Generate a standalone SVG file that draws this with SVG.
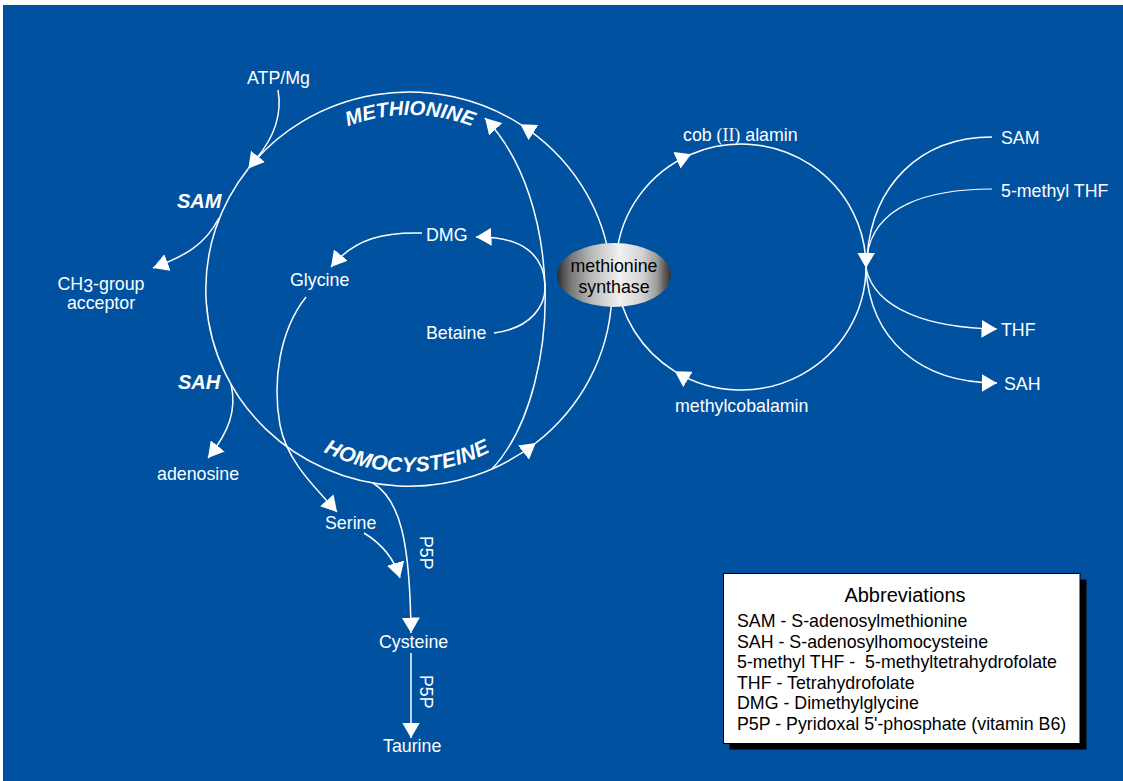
<svg xmlns="http://www.w3.org/2000/svg" width="1123" height="781" viewBox="0 0 1123 781">
<defs>
<style>
.bg{fill:#0052A0}
.ln{fill:none;stroke:#fff;stroke-width:1.5}
.thin{fill:none;stroke:#fff;stroke-width:1.2}
.t{font-family:"Liberation Sans",Arial,sans-serif;font-size:17.8px;fill:#fff}
.bi{font-family:"Liberation Sans",Arial,sans-serif;font-size:20px;font-weight:bold;font-style:italic;fill:#fff}
.dk{font-family:"Liberation Sans",Arial,sans-serif;font-size:17.8px;fill:#000}
</style>
<marker id="ah" viewBox="0 0 15.5 18" refX="15.5" refY="9" markerWidth="15.5" markerHeight="18" markerUnits="userSpaceOnUse" orient="auto">
<path d="M0,0 L15.5,9 L0,18 Z" fill="#fff"/>
</marker>
<linearGradient id="enz" x1="0" y1="0" x2="1" y2="0">
<stop offset="0" stop-color="#2a2a2a"/>
<stop offset="0.06" stop-color="#555"/>
<stop offset="0.13" stop-color="#7a7a7a"/>
<stop offset="0.3" stop-color="#b8b8b8"/>
<stop offset="0.55" stop-color="#f2f2f2"/>
<stop offset="0.75" stop-color="#d2d2d2"/>
<stop offset="0.88" stop-color="#9a9a9a"/>
<stop offset="0.94" stop-color="#606060"/>
<stop offset="1" stop-color="#303030"/>
</linearGradient>
<path id="arcTop" d="M 236 289 A 174 174 0 0 1 584 289"/>
<path id="arcBot" d="M 224 289 A 183 183 0 0 0 590 289"/>
</defs>

<rect class="bg" x="3" y="5" width="1120" height="776"/>

<g id="connectors">
<path class="ln" d="M 610 261.6 A 203 197 0 0 0 520.4 124.3" marker-end="url(#ah)"/>
<path class="ln" d="M 520.4 124.3 A 203 197 0 0 0 248.4 168.5" marker-end="url(#ah)"/>
<path class="ln" d="M 248.4 168.5 A 203 197 0 0 0 535.7 443" marker-end="url(#ah)"/>
<path class="ln" d="M 535.7 443 A 203 197 0 0 0 611.7 299.3"/>
<path class="ln" d="M 278 90 C 283 118, 272 140, 256 159"/>
<path class="ln" d="M 219 218 C 205 245, 185 256, 153 268" marker-end="url(#ah)"/>
<path class="ln" d="M 231 384 C 237 410, 229 432, 208 458" marker-end="url(#ah)"/>
<path class="ln" d="M 492 469 C 533 425, 547 345, 545 287 C 543 225, 525 160, 485 118" marker-end="url(#ah)"/>
<path class="ln" d="M 494 333 C 532 328, 546 305, 545 285 C 544 255, 522 236, 476 237" marker-end="url(#ah)"/>
<path class="ln" d="M 422 233 C 385 232, 355 238, 331 267" marker-end="url(#ah)"/>
<path class="ln" d="M 306 297 C 280 330, 272 380, 280 425 C 287 462, 316 488, 337 512" marker-end="url(#ah)"/>
<path class="ln" d="M 373 483 C 400 500, 410 540, 411 633" marker-end="url(#ah)"/>
<path class="ln" d="M 364 533 C 382 544, 394 558, 400 578" marker-end="url(#ah)"/>
<path class="ln" d="M 411 653 L 411 738" marker-end="url(#ah)"/>
<path class="ln" d="M 616.5 256.3 A 125 123 0 0 1 691.2 154.2" marker-end="url(#ah)"/>
<path class="ln" d="M 691.2 154.2 A 125 123 0 0 1 866 268.1" marker-end="url(#ah)"/>
<path class="ln" d="M 866 268.1 A 125 123 0 0 1 674.8 371.3" marker-end="url(#ah)"/>
<path class="ln" d="M 674.8 371.3 A 125 123 0 0 1 616.5 277.7"/>
<path class="ln" d="M 992 137 C 920 137, 872 185, 867 258"/>
<path class="thin" d="M 992 189 C 930 189, 872 205, 867 258"/>
<path class="thin" d="M 866 268 C 875 310, 930 328, 997 329" marker-end="url(#ah)"/>
<path class="ln" d="M 866 268 C 870 340, 920 383, 997 383" marker-end="url(#ah)"/>
</g>

<g id="node-methionine-synthase">
<ellipse cx="614" cy="275" rx="57" ry="32" fill="url(#enz)"/>
<text class="dk" x="614" y="272" text-anchor="middle">methionine</text>
<text class="dk" x="614" y="293" text-anchor="middle">synthase</text>
</g>

<g id="node-methionine">
<text class="bi" style="font-size:20.3px"><textPath href="#arcTop" startOffset="50%" text-anchor="middle">METHIONINE</textPath></text>
</g>
<g id="node-homocysteine">
<text class="bi" style="font-size:21px;letter-spacing:0.3px"><textPath href="#arcBot" startOffset="50%" text-anchor="middle">HOMOCYSTEINE</textPath></text>
</g>
<g id="node-sam"><text class="bi" x="177" y="208">SAM</text></g>
<g id="node-sah"><text class="bi" x="178" y="389">SAH</text></g>
<g id="node-atp"><text class="t" x="247" y="84">ATP/Mg</text></g>
<g id="node-ch3">
<text class="t" x="101" y="290" text-anchor="middle">CH<tspan dy="1.5">3</tspan><tspan dy="-1.5">-group</tspan></text>
<text class="t" x="101" y="308.5" text-anchor="middle">acceptor</text>
</g>
<g id="node-adenosine"><text class="t" x="157" y="480">adenosine</text></g>
<g id="node-dmg"><text class="t" x="426" y="241">DMG</text></g>
<g id="node-glycine"><text class="t" x="290" y="285.5">Glycine</text></g>
<g id="node-betaine"><text class="t" x="426" y="339">Betaine</text></g>
<g id="node-serine"><text class="t" x="325" y="529">Serine</text></g>
<g id="node-cysteine"><text class="t" x="379" y="648">Cysteine</text></g>
<g id="node-taurine"><text class="t" x="383" y="752">Taurine</text></g>
<g id="label-p5p-1"><text class="t" transform="translate(420,536) rotate(90)">P5P</text></g>
<g id="label-p5p-2"><text class="t" transform="translate(420,675) rotate(90)">P5P</text></g>
<g id="node-cob2"><text class="t" x="683" y="141">cob <tspan font-family="'Liberation Serif',serif">(II)</tspan> alamin</text></g>
<g id="node-methylcob"><text class="t" x="675" y="412">methylcobalamin</text></g>
<g id="node-sam-r"><text class="t" x="1001" y="143.5">SAM</text></g>
<g id="node-5mthf"><text class="t" x="1001" y="196.5">5-methyl THF</text></g>
<g id="node-thf"><text class="t" x="1001" y="335.5">THF</text></g>
<g id="node-sah-r"><text class="t" x="1004" y="390">SAH</text></g>

<g id="abbreviations">
<rect x="729.5" y="579.5" width="357" height="170" fill="#000"/>
<rect x="723.5" y="573.5" width="356.5" height="170" fill="#fff" stroke="#000" stroke-width="1"/>
<text class="dk" x="905" y="602" text-anchor="middle" style="font-size:20px">Abbreviations</text>
<text class="dk" x="737" y="627">SAM - S-adenosylmethionine</text>
<text class="dk" x="737" y="647.5">SAH - S-adenosylhomocysteine</text>
<text class="dk" x="737" y="668" style="white-space:pre">5-methyl THF -  5-methyltetrahydrofolate</text>
<text class="dk" x="737" y="688.5">THF - Tetrahydrofolate</text>
<text class="dk" x="737" y="709">DMG - Dimethylglycine</text>
<text class="dk" x="737" y="729.5">P5P - Pyridoxal 5'-phosphate (vitamin B6)</text>
</g>
</svg>
